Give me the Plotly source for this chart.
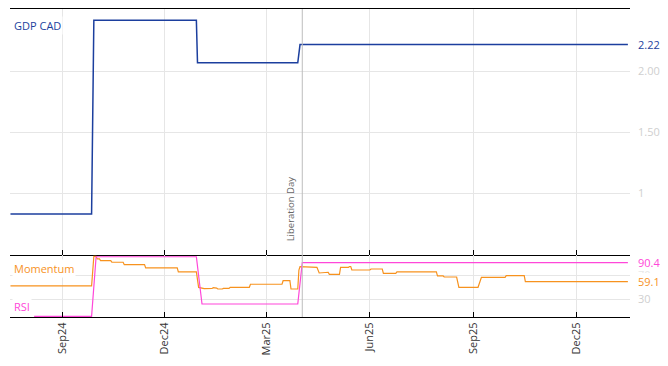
import plotly.graph_objects as go

# ---------------- data ----------------
gdp_dates = ['2024-07-17', '2024-09-27', '2024-09-29', '2024-12-29', '2024-12-30',
             '2025-03-29', '2025-03-31', '2026-01-16']
gdp_vals = [0.827, 0.827, 2.419, 2.419, 2.07, 2.07, 2.22, 2.22]

rsi_dates = ['2024-08-07', '2024-09-27', '2024-10-01', '2024-12-29', '2025-01-03',
             '2025-03-29', '2025-04-02', '2026-01-16']
rsi_vals = [2, 2, 100, 100, 22.3, 22.3, 90.4, 90.4]

mom_dates = ['2024-07-17', '2024-09-27', '2024-09-29', '2024-10-01', '2024-10-02', '2024-10-04',
             '2024-10-05', '2024-10-14', '2024-10-15', '2024-10-25', '2024-10-26', '2024-11-13',
             '2024-11-14', '2024-12-12', '2024-12-13', '2024-12-29', '2024-12-31', '2025-01-03',
             '2025-01-05', '2025-01-12', '2025-01-13', '2025-01-16', '2025-01-17', '2025-01-21',
             '2025-01-22', '2025-01-27', '2025-01-28', '2025-02-14', '2025-02-15', '2025-03-15',
             '2025-03-16', '2025-03-22', '2025-03-23', '2025-03-29', '2025-03-30', '2025-03-31',
             '2025-04-03', '2025-04-04', '2025-04-15', '2025-04-17', '2025-04-24', '2025-04-25',
             '2025-04-26', '2025-05-05', '2025-05-06', '2025-05-13', '2025-05-14', '2025-05-15',
             '2025-05-16', '2025-06-01', '2025-06-02', '2025-06-12', '2025-06-13', '2025-06-24',
             '2025-06-25', '2025-07-30', '2025-07-31', '2025-08-05', '2025-08-06', '2025-08-17',
             '2025-08-19', '2025-09-05', '2025-09-08', '2025-09-29', '2025-09-30', '2025-10-16',
             '2025-10-17', '2026-01-16']
mom_vals = [52, 52, 100.5, 100.5, 96.5, 96.5,
            93.5, 93.5, 91, 91, 87, 87,
            81.8, 81.8, 75.2, 75.2, 49.5, 49,
            47.5, 47.8, 49.3, 48.5, 47, 47,
            48, 48, 49.8, 49.8, 54.8, 54.8,
            60.6, 60.6, 47, 47, 78, 83.7,
            83.7, 82.5, 82.5, 73.3, 73.3, 74.5,
            71.1, 71.1, 82.6, 82.6, 84, 84,
            78.2, 78.2, 79.9, 79.9, 72.8, 72.8,
            75, 75, 68.4, 68.4, 66.7, 66.7,
            49.8, 49.8, 66.2, 66.2, 68.9, 68.9,
            59.1, 59.1]

tick_dates = ['2024-09-01', '2024-12-01', '2025-03-01', '2025-06-01', '2025-09-01', '2025-12-01']
tick_text = ['Sep24', 'Dec24', 'Mar25', 'Jun25', 'Sep25', 'Dec25']

event_date = '2025-04-02'
event_name = 'Liberation Day'

# ---------------- style ----------------
C_GDP = '#1c3f9e'
C_MOM = '#f7921e'
C_RSI = '#ff47d9'
GRID = '#e6e6e6'
LABEL_GREY = '#cfcfcf'
FONT = 'Open Sans'
x_range = ['2024-07-16 14:00', '2026-01-17 21:00']
split = 62 / 308

fig = go.Figure()
fig.add_trace(go.Scatter(x=gdp_dates, y=gdp_vals, mode='lines',
                         line=dict(color=C_GDP, width=1.5), xaxis='x', yaxis='y'))
fig.add_trace(go.Scatter(x=mom_dates, y=mom_vals, mode='lines',
                         line=dict(color=C_MOM, width=1.2), xaxis='x2', yaxis='y2'))
fig.add_trace(go.Scatter(x=rsi_dates, y=rsi_vals, mode='lines',
                         line=dict(color=C_RSI, width=1.2), xaxis='x2', yaxis='y2'))

xcommon = dict(type='date', range=x_range, tickvals=tick_dates, ticktext=tick_text,
               showgrid=True, gridcolor=GRID, gridwidth=1,
               showline=True, linecolor='black', linewidth=1,
               ticks='inside', ticklen=5, tickcolor='black', zeroline=False)

fig.update_layout(
    width=668, height=366,
    margin=dict(l=10, r=38, t=9, b=49),
    paper_bgcolor='white', plot_bgcolor='white',
    showlegend=False,
    font=dict(family=FONT, size=11, color='#333333'),
    xaxis=dict(**xcommon, anchor='y', domain=[0, 1], showticklabels=False, mirror=True),
    xaxis2=dict(**xcommon, anchor='y2', domain=[0, 1], matches='x', mirror=False,
                showticklabels=True, tickangle=-90,
                tickfont=dict(family=FONT, size=11, color='#333333')),
    yaxis=dict(domain=[split, 1], range=[0.4906, 2.512], side='right', anchor='x',
               tickvals=[1, 1.5, 2], ticktext=['1', '1.50', '2.00'],
               tickfont=dict(family=FONT, size=11, color=LABEL_GREY),
               showgrid=True, gridcolor=GRID, zeroline=False, showline=False,
               ticks='', ticklabelstandoff=7),
    yaxis2=dict(domain=[0, split], range=[0.9, 102.9], side='right', anchor='x2',
                tickvals=[30, 70], ticktext=['30', '70'],
                tickfont=dict(family=FONT, size=11, color=LABEL_GREY),
                showgrid=True, gridcolor=GRID, zeroline=False, showline=False,
                ticks='', ticklabelstandoff=7),
)

# event line
fig.add_shape(type='line', x0=event_date, x1=event_date, xref='x', yref='paper',
              y0=0, y1=1, line=dict(color='#bdbdbd', width=1), layer='above')
fig.add_annotation(x=event_date, xref='x', y=0.24, yref='paper', text=event_name,
                   textangle=-90, showarrow=False, xanchor='right', yanchor='bottom',
                   xshift=-3, font=dict(family=FONT, size=9.5, color='#666666'))

# panel labels
for txt, yv, yr, col in [('GDP CAD', 2.38, 'y', C_GDP),
                         ('Momentum', 81.5, 'y2', C_MOM),
                         ('RSI', 19, 'y2', C_RSI)]:
    fig.add_annotation(x=0, xref='paper', y=yv, yref=yr, text=txt, showarrow=False,
                       xanchor='left', yanchor='middle', xshift=2, bgcolor='white',
                       borderpad=1, font=dict(family=FONT, size=11, color=col))

# last-value labels
for val, yr, col, fmt in [(gdp_vals[-1], 'y', C_GDP, '{:.2f}'),
                          (rsi_vals[-1], 'y2', C_RSI, '{:.1f}'),
                          (mom_vals[-1], 'y2', C_MOM, '{:.1f}')]:
    fig.add_annotation(x=1, xref='paper', y=val, yref=yr, text=fmt.format(val),
                       showarrow=False, xanchor='left', yanchor='middle', xshift=6,
                       bgcolor='white', borderpad=1,
                       font=dict(family=FONT, size=11, color=col))

fig.write_html('out.html')
